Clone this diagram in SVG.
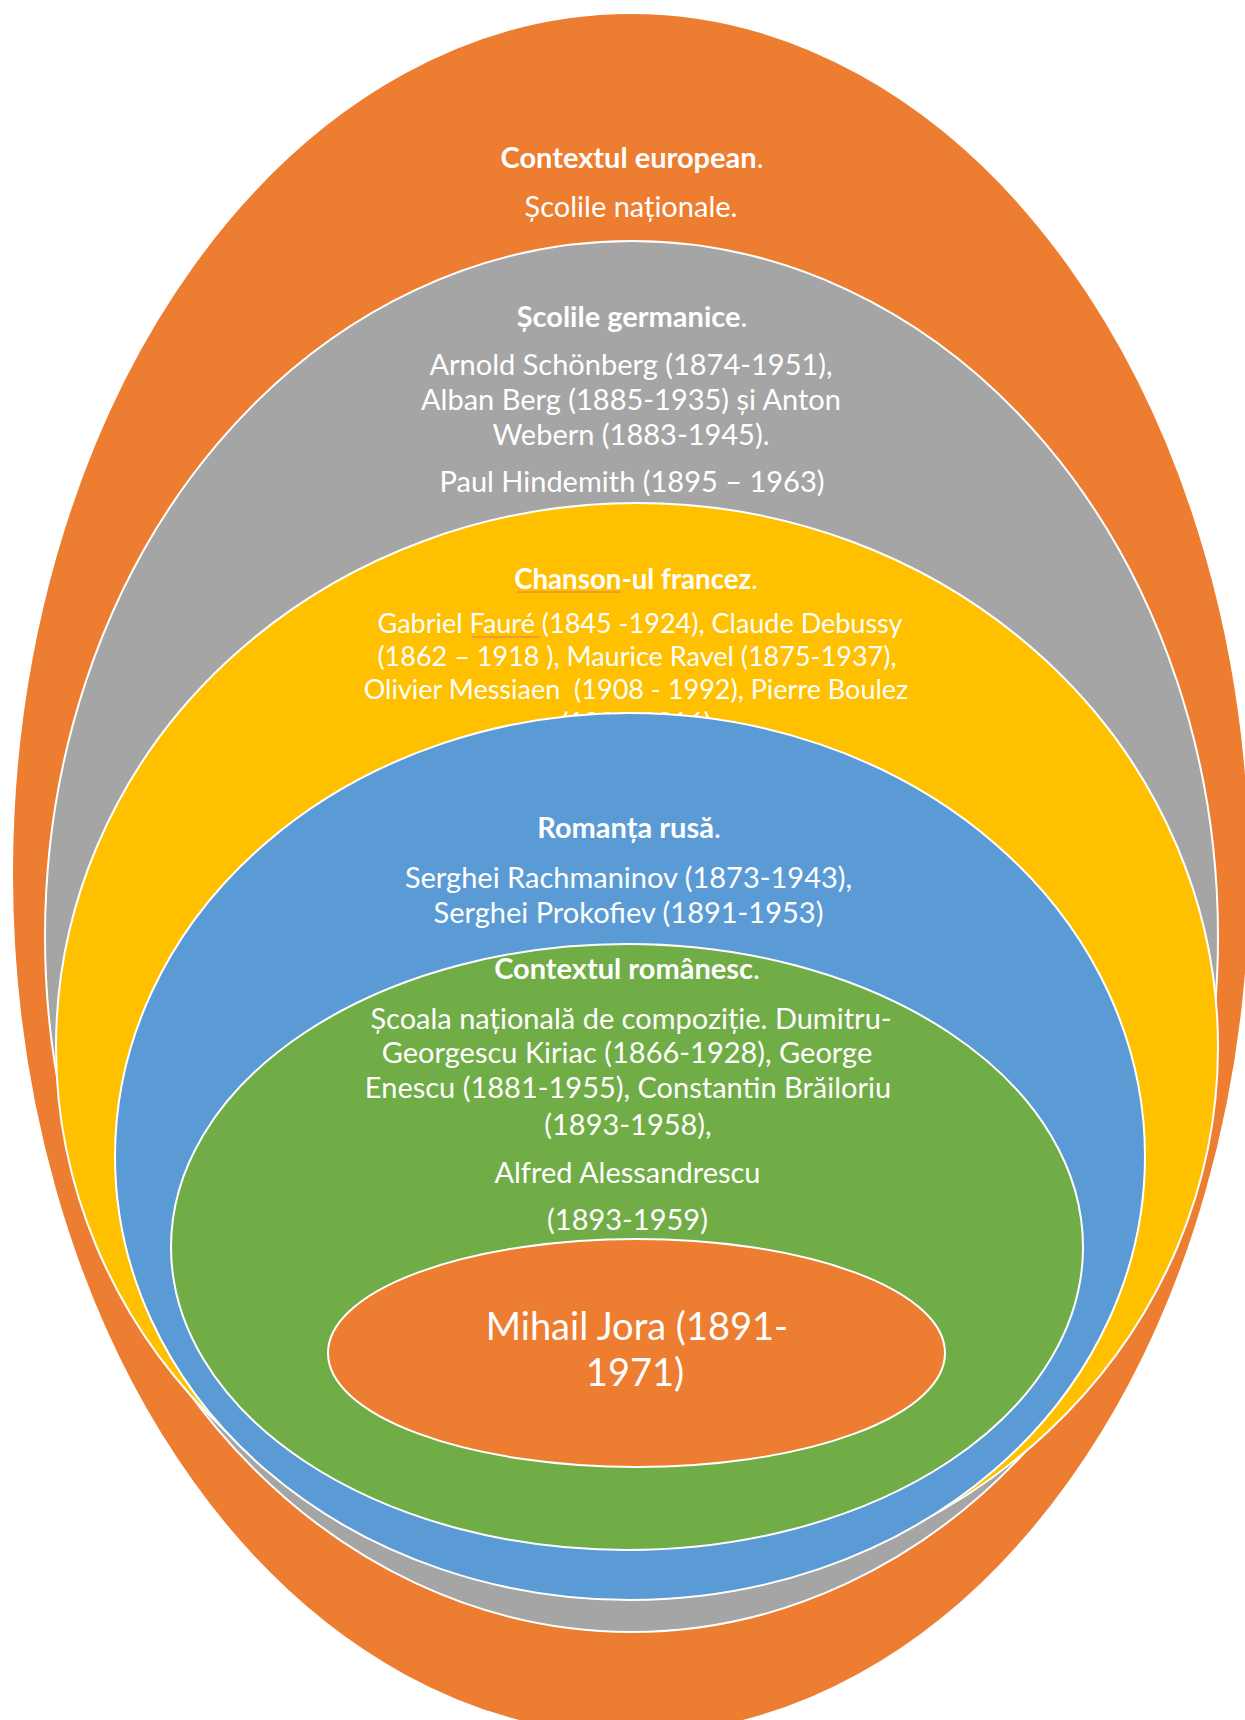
<svg xmlns="http://www.w3.org/2000/svg" width="1245" height="1720" viewBox="0 0 1245 1720">
<style>
  .ring { stroke: #ffffff; stroke-width: 2; }
  .t { font-family: Lato, "Open Sans", "Liberation Sans", sans-serif; font-size: 29px; fill: #ffffff; text-anchor: middle; }
  .b { font-weight: bold; }
  .s { font-size: 27px; }
  .sh { font-size: 27.7px; }
  .big { font-size: 38px; }
  .sq { stroke: #E8735A; stroke-width: 1.2; fill: none; }
</style>
<rect width="1245" height="1720" fill="#ffffff"/>
<g id="node-european">
  <ellipse class="ring" cx="631" cy="874" rx="619" ry="861" fill="#ED7D31"/>
  <text class="t" x="632" y="168"><tspan class="b">Contextul european</tspan>.</text>
  <text class="t" x="631" y="217">Școlile naționale.</text>
</g>
<g id="node-germanice">
  <ellipse class="ring" cx="631.5" cy="936.5" rx="586.5" ry="695.5" fill="#A5A5A5"/>
  <text class="t" x="632" y="327"><tspan class="b">Școlile germanice</tspan>.</text>
  <text class="t" x="631" y="375">Arnold Schönberg (1874-1951),</text>
  <text class="t" x="631" y="410">Alban Berg (1885-1935) și Anton</text>
  <text class="t" x="631" y="445">Webern (1883-1945).</text>
  <text class="t" x="632" y="492">Paul Hindemith (1895 – 1963)</text>
</g>
<g id="node-francez">
  <ellipse class="ring" cx="637" cy="1047" rx="581" ry="544" fill="#FFC000"/>
  <text class="t sh" x="636" y="589"><tspan class="b">Chanson-ul francez</tspan>.</text>
  <line class="sq" x1="517" y1="592" x2="621" y2="592"/>
  <text class="t s" x="640" y="633">Gabriel Fauré (1845 -1924), Claude Debussy</text>
  <line class="sq" x1="472" y1="637" x2="540" y2="637"/>
  <text class="t s" x="637" y="666">(1862 – 1918 ), Maurice Ravel (1875-1937),</text>
  <text class="t s" x="636" y="699" xml:space="preserve">Olivier Messiaen  (1908 - 1992), Pierre Boulez</text>
  <text class="t s" x="636" y="732">(1925-2016)</text>
</g>
<g id="node-rusa">
  <ellipse class="ring" cx="630" cy="1156.5" rx="515" ry="443.5" fill="#5B9BD5"/>
  <text class="t" x="629" y="838"><tspan class="b">Romanța rusă</tspan>.</text>
  <text class="t" x="628.5" y="888">Serghei Rachmaninov (1873-1943),</text>
  <text class="t" x="628.5" y="923">Serghei Prokofiev (1891-1953)</text>
</g>
<g id="node-romanesc">
  <ellipse class="ring" cx="627" cy="1247" rx="456" ry="303" fill="#70AD47"/>
  <text class="t" x="627" y="979"><tspan class="b">Contextul românesc</tspan>.</text>
  <text class="t" x="631" y="1029">Școala națională de compoziție. Dumitru-</text>
  <text class="t" x="627" y="1063">Georgescu Kiriac (1866-1928), George</text>
  <text class="t" x="628" y="1098">Enescu (1881-1955), Constantin Brăiloriu</text>
  <text class="t" x="628" y="1135">(1893-1958),</text>
  <text class="t" x="627.5" y="1183">Alfred Alessandrescu</text>
  <text class="t" x="627.5" y="1230">(1893-1959)</text>
</g>
<g id="node-jora">
  <ellipse class="ring" cx="636.5" cy="1353" rx="308.5" ry="114" fill="#ED7D31"/>
  <text class="t big" x="637" y="1340">Mihail Jora (1891-</text>
  <text class="t big" x="635" y="1386">1971)</text>
</g>
<g id="connectors"/>
</svg>
